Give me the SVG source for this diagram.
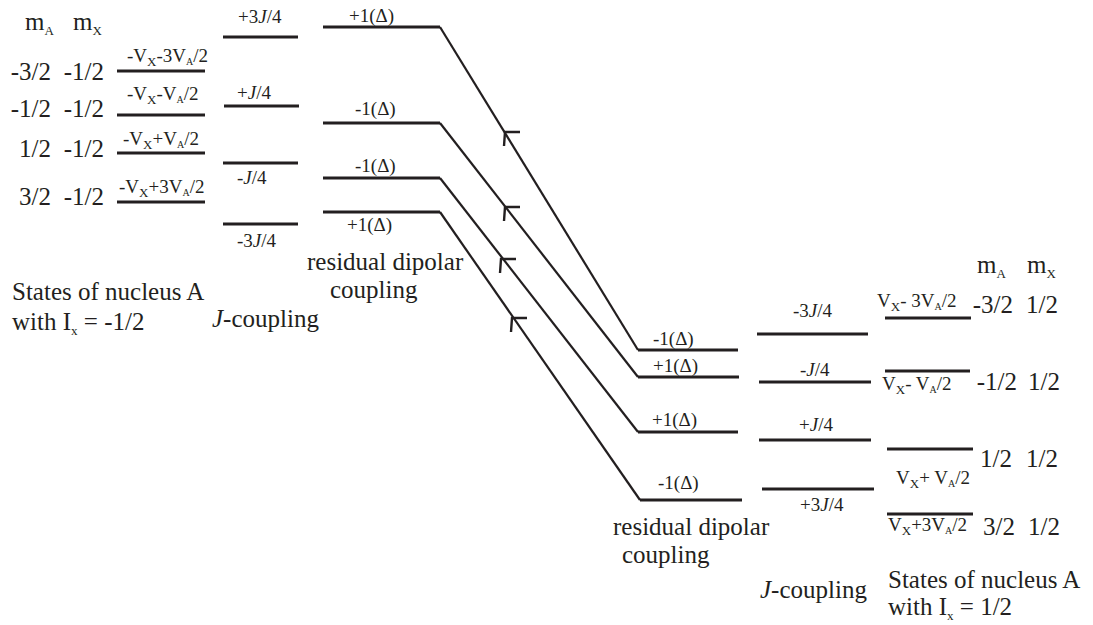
<svg xmlns="http://www.w3.org/2000/svg" width="1093" height="625" viewBox="0 0 1093 625">
<style>
text{font-family:"Liberation Serif","DejaVu Serif","Times New Roman",serif;fill:#231f20}
.big{font-size:25px}
.sm{font-size:19px}
.sub{font-size:13px}
.sub2{font-size:10px}
.lvl{stroke:#231f20;stroke-width:3;fill:none}
.con{stroke:#231f20;stroke-width:2.2;fill:none}
.ah{stroke:#231f20;stroke-width:2.4;fill:none}
.it{font-style:italic}
</style>
<defs>
<path id="ah" class="ah" d="M15,0 L0,0 L-1,14"/>
</defs>
<rect width="1093" height="625" fill="#fff"/>

<g id="left-header">
<text class="big" x="25" y="30">m<tspan class="sub" dy="5">A</tspan></text>
<text class="big" x="73" y="30">m<tspan class="sub" dy="5">X</tspan></text>
<text class="big" x="51" y="80" text-anchor="end">-3/2</text>
<text class="big" x="104" y="80" text-anchor="end">-1/2</text>
<text class="big" x="51" y="117" text-anchor="end">-1/2</text>
<text class="big" x="104" y="117" text-anchor="end">-1/2</text>
<text class="big" x="51" y="157" text-anchor="end">1/2</text>
<text class="big" x="104" y="157" text-anchor="end">-1/2</text>
<text class="big" x="51" y="205" text-anchor="end">3/2</text>
<text class="big" x="104" y="205" text-anchor="end">-1/2</text>
</g>

<g id="left-state-1"><line class="lvl" x1="117" y1="71" x2="205" y2="71"/><text class="sm" x="127" y="62">-V<tspan class="sub" dy="4">X</tspan><tspan dy="-4">-3V</tspan><tspan class="sub2" dy="3">A</tspan><tspan dy="-3">/2</tspan></text></g>
<g id="left-state-2"><line class="lvl" x1="117" y1="115" x2="205" y2="115"/><text class="sm" x="127" y="100">-V<tspan class="sub" dy="4">X</tspan><tspan dy="-4">-V</tspan><tspan class="sub2" dy="3">A</tspan><tspan dy="-3">/2</tspan></text></g>
<g id="left-state-3"><line class="lvl" x1="117" y1="153" x2="205" y2="153"/><text class="sm" x="123" y="145">-V<tspan class="sub" dy="4">X</tspan><tspan dy="-4">+V</tspan><tspan class="sub2" dy="3">A</tspan><tspan dy="-3">/2</tspan></text></g>
<g id="left-state-4"><line class="lvl" x1="117" y1="202" x2="205" y2="202"/><text class="sm" x="119" y="193">-V<tspan class="sub" dy="4">X</tspan><tspan dy="-4">+3V</tspan><tspan class="sub2" dy="3">A</tspan><tspan dy="-3">/2</tspan></text></g>

<g id="left-J-1"><line class="lvl" x1="223" y1="37" x2="298" y2="37"/><text class="sm" x="238" y="23">+3<tspan class="it">J</tspan>/4</text></g>
<g id="left-J-2"><line class="lvl" x1="224" y1="106" x2="299" y2="106"/><text class="sm" x="237" y="99">+<tspan class="it">J</tspan>/4</text></g>
<g id="left-J-3"><line class="lvl" x1="223" y1="163" x2="298" y2="163"/><text class="sm" x="237" y="184">-<tspan class="it">J</tspan>/4</text></g>
<g id="left-J-4"><line class="lvl" x1="223" y1="224" x2="298" y2="224"/><text class="sm" x="237" y="247">-3<tspan class="it">J</tspan>/4</text></g>

<g id="left-rdc-1"><line class="lvl" x1="323" y1="27" x2="440" y2="27"/><text class="sm" x="349" y="22">+1(Δ)</text></g>
<g id="left-rdc-2"><line class="lvl" x1="323" y1="123" x2="440" y2="123"/><text class="sm" x="355" y="115">-1(Δ)</text></g>
<g id="left-rdc-3"><line class="lvl" x1="323" y1="178" x2="440" y2="178"/><text class="sm" x="355" y="172">-1(Δ)</text></g>
<g id="left-rdc-4"><line class="lvl" x1="323" y1="212" x2="440" y2="212"/><text class="sm" x="347" y="231">+1(Δ)</text></g>

<g id="left-labels">
<text class="big" x="307" y="270">residual dipolar</text>
<text class="big" x="330" y="298">coupling</text>
<text class="big" x="212" y="327"><tspan class="it">J</tspan>-coupling</text>
<text class="big" x="12" y="300">States of nucleus A</text>
<text class="big" x="12" y="330">with I<tspan class="sub" dy="5">x</tspan><tspan dy="-5"> = -1/2</tspan></text>
</g>

<g id="connectors">
<line class="con" x1="440" y1="27" x2="638" y2="350"/>
<line class="con" x1="440" y1="123" x2="638" y2="377"/>
<line class="con" x1="440" y1="178" x2="638" y2="432"/>
<line class="con" x1="440" y1="212" x2="640" y2="500"/>
<use href="#ah" x="505" y="132"/>
<use href="#ah" x="505" y="207"/>
<use href="#ah" x="501" y="259"/>
<use href="#ah" x="512" y="318"/>
</g>

<g id="right-rdc-1"><line class="lvl" x1="638" y1="350" x2="738" y2="350"/><text class="sm" x="653" y="345">-1(Δ)</text></g>
<g id="right-rdc-2"><line class="lvl" x1="638" y1="377" x2="739" y2="377"/><text class="sm" x="653" y="372">+1(Δ)</text></g>
<g id="right-rdc-3"><line class="lvl" x1="638" y1="432" x2="738" y2="432"/><text class="sm" x="652" y="426">+1(Δ)</text></g>
<g id="right-rdc-4"><line class="lvl" x1="640" y1="500" x2="742" y2="500"/><text class="sm" x="658" y="489">-1(Δ)</text></g>

<g id="right-J-1"><line class="lvl" x1="757" y1="334" x2="868" y2="334"/><text class="sm" x="793" y="317">-3<tspan class="it">J</tspan>/4</text></g>
<g id="right-J-2"><line class="lvl" x1="759" y1="382" x2="871" y2="382"/><text class="sm" x="800" y="376">-<tspan class="it">J</tspan>/4</text></g>
<g id="right-J-3"><line class="lvl" x1="759" y1="440" x2="871" y2="440"/><text class="sm" x="799" y="431">+<tspan class="it">J</tspan>/4</text></g>
<g id="right-J-4"><line class="lvl" x1="762" y1="489" x2="874" y2="489"/><text class="sm" x="800" y="511">+3<tspan class="it">J</tspan>/4</text></g>

<g id="right-state-1"><line class="lvl" x1="885" y1="318" x2="971" y2="318"/><text class="sm" x="877" y="307">V<tspan class="sub" dy="4">X</tspan><tspan dy="-4">- 3V</tspan><tspan class="sub2" dy="3">A</tspan><tspan dy="-3">/2</tspan></text></g>
<g id="right-state-2"><line class="lvl" x1="885" y1="371" x2="970" y2="371"/><text class="sm" x="882" y="390">V<tspan class="sub" dy="4">X</tspan><tspan dy="-4">- V</tspan><tspan class="sub2" dy="3">A</tspan><tspan dy="-3">/2</tspan></text></g>
<g id="right-state-3"><line class="lvl" x1="887" y1="449" x2="973" y2="449"/><text class="sm" x="896" y="484">V<tspan class="sub" dy="4">X</tspan><tspan dy="-4">+ V</tspan><tspan class="sub2" dy="3">A</tspan><tspan dy="-3">/2</tspan></text></g>
<g id="right-state-4"><line class="lvl" x1="887" y1="514" x2="973" y2="514"/><text class="sm" x="888" y="531">V<tspan class="sub" dy="4">X</tspan><tspan dy="-4">+3V</tspan><tspan class="sub2" dy="3">A</tspan><tspan dy="-3">/2</tspan></text></g>

<g id="right-header">
<text class="big" x="977" y="273">m<tspan class="sub" dy="5">A</tspan></text>
<text class="big" x="1027" y="273">m<tspan class="sub" dy="5">X</tspan></text>
<text class="big" x="1013" y="313" text-anchor="end">-3/2</text>
<text class="big" x="1058" y="313" text-anchor="end">1/2</text>
<text class="big" x="1017" y="390" text-anchor="end">-1/2</text>
<text class="big" x="1060" y="390" text-anchor="end">1/2</text>
<text class="big" x="1012" y="467" text-anchor="end">1/2</text>
<text class="big" x="1058" y="467" text-anchor="end">1/2</text>
<text class="big" x="1015" y="535" text-anchor="end">3/2</text>
<text class="big" x="1060" y="535" text-anchor="end">1/2</text>
</g>

<g id="right-labels">
<text class="big" x="613" y="535">residual dipolar</text>
<text class="big" x="622" y="563">coupling</text>
<text class="big" x="760" y="598"><tspan class="it">J</tspan>-coupling</text>
<text class="big" x="888" y="588">States of nucleus A</text>
<text class="big" x="888" y="615">with I<tspan class="sub" dy="5">x</tspan><tspan dy="-5"> = 1/2</tspan></text>
</g>
</svg>
